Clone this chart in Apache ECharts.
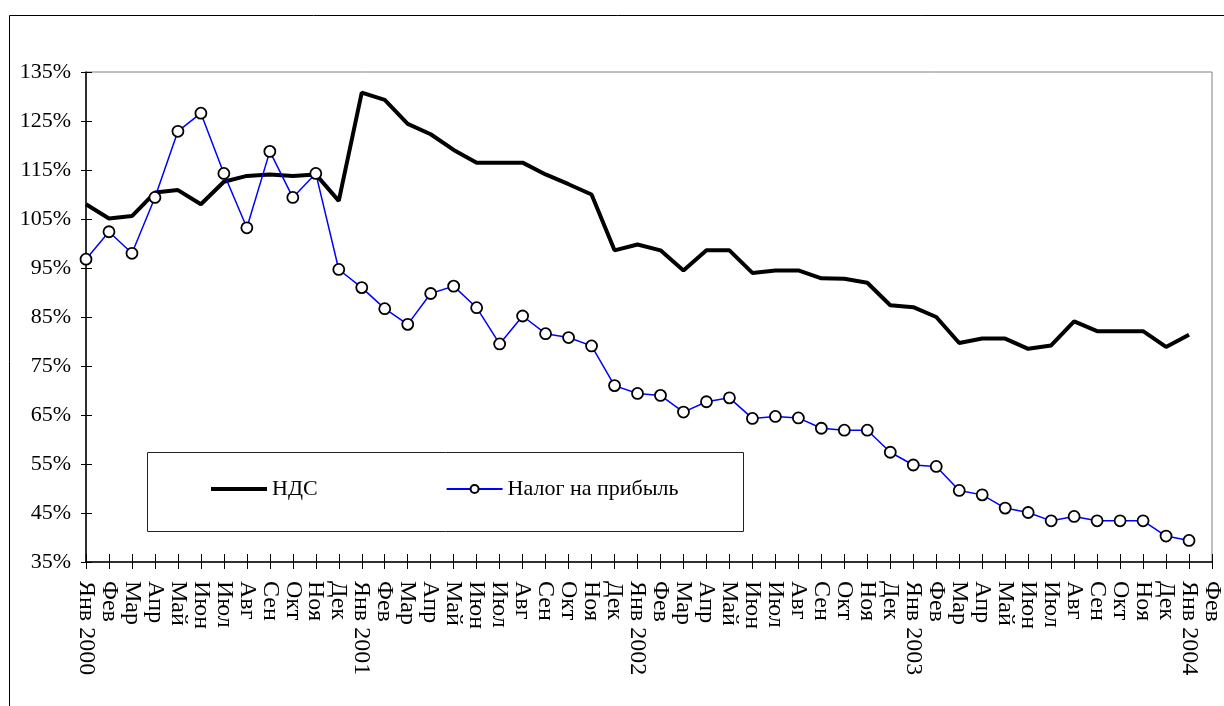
<!DOCTYPE html>
<html>
<head>
<meta charset="utf-8">
<script src="https://cdn.jsdelivr.net/npm/echarts@6/dist/echarts.min.js"></script>
<style>
html,body{margin:0;padding:0;background:#fff;}
#chart{width:1224px;height:706px;}
</style>
</head>
<body>
<div id="chart"></div>
<script>
// Category labels (months Jan 2000 .. Feb 2004)
var categories = [
  'Янв 2000','Фев','Мар','Апр','Май','Июн','Июл','Авг','Сен','Окт','Ноя','Дек',
  'Янв 2001','Фев','Мар','Апр','Май','Июн','Июл','Авг','Сен','Окт','Ноя','Дек',
  'Янв 2002','Фев','Мар','Апр','Май','Июн','Июл','Авг','Сен','Окт','Ноя','Дек',
  'Янв 2003','Фев','Мар','Апр','Май','Июн','Июл','Авг','Сен','Окт','Ноя','Дек',
  'Янв 2004','Фев'
];
// НДС, %
var ndsValues = [
  108.0,105.1,105.6,110.4,110.9,108.0,112.6,113.8,114.1,113.8,114.1,108.7,
  130.8,129.3,124.4,122.3,119.1,116.5,116.5,116.5,114.1,112.1,110.0,98.6,
  99.8,98.6,94.5,98.6,98.6,94.0,94.5,94.5,92.9,92.8,92.0,87.4,
  87.0,85.0,79.7,80.6,80.6,78.5,79.2,84.1,82.1,82.1,82.1,78.9,
  81.4
];
// Налог на прибыль, %
var profitTaxValues = [
  96.8,102.4,98.0,109.4,122.9,126.6,114.3,103.2,118.8,109.4,114.3,94.7,
  91.0,86.7,83.5,89.8,91.3,86.9,79.5,85.2,81.6,80.8,79.1,71.0,
  69.4,69.0,65.6,67.7,68.5,64.3,64.7,64.4,62.3,61.9,61.9,57.4,
  54.8,54.5,49.6,48.7,46.0,45.1,43.4,44.3,43.4,43.4,43.4,40.3,
  39.4
];
// Y tick values (%)
var yTicks = [35,45,55,65,75,85,95,105,115,125,135];
var seriesNames = ['НДС','Налог на прибыль'];

var FONT = '"Liberation Serif", "Times New Roman", serif';
var chart = echarts.init(document.getElementById('chart'));
chart.setOption({
  animation: false,
  backgroundColor: '#ffffff',
  textStyle: {fontFamily: FONT, color: '#000'},
  grid: {left: 86, right: 9, top: 72, bottom: 144, show: true, borderColor: '#808080', borderWidth: 1, containLabel: false},
  graphic: [
    {type: 'rect', shape: {x: 9.5, y: 15.5, width: 1400, height: 900}, style: {fill: 'none', stroke: '#000', lineWidth: 1}, silent: true, z: -10},
    {type: 'rect', shape: {x: 147.5, y: 452.5, width: 596, height: 79}, style: {fill: '#fff', stroke: '#222', lineWidth: 1}, silent: true, z: 5}
  ],
  legend: {
    left: 206, top: 473, z: 10,
    itemWidth: 56, itemHeight: 10, itemGap: 128,
    textStyle: {fontFamily: FONT, fontSize: 22, color: '#000'},
    data: [
      {name: seriesNames[0], icon: 'path://M0,0 L56,0 L56,4 L0,4 Z', itemStyle: {color: '#000'}},
      {name: seriesNames[1]}
    ]
  },
  xAxis: [
    {
      type: 'category', data: categories, boundaryGap: false,
      axisLine: {lineStyle: {color: '#000', width: 1.5}},
      axisTick: {show: true, inside: false, length: 7, interval: 0, lineStyle: {color: '#000', width: 1}},
      axisLabel: {interval: 0, rotate: -90, margin: 19, fontFamily: FONT, fontSize: 24, color: '#000'},
      splitLine: {show: false}
    },
    {
      type: 'category', data: categories, boundaryGap: false, position: 'bottom',
      axisLine: {show: false},
      axisTick: {show: true, inside: true, length: 8, interval: 0, lineStyle: {color: '#000', width: 1}},
      axisLabel: {show: false}, splitLine: {show: false}
    }
  ],
  yAxis: [
    {
      type: 'value', min: 35, max: 135,
      axisLine: {show: true, lineStyle: {color: '#000', width: 1.5}},
      axisTick: {show: true, inside: false, length: 5, customValues: yTicks, lineStyle: {color: '#000'}},
      axisLabel: {customValues: yTicks, formatter: '{value}%', margin: 15, fontFamily: FONT, fontSize: 22, color: '#000'},
      splitLine: {show: false}
    },
    {
      type: 'value', min: 35, max: 135, position: 'left',
      axisLine: {show: false},
      axisTick: {show: true, inside: true, length: 6, customValues: yTicks, lineStyle: {color: '#000'}},
      axisLabel: {show: false}, splitLine: {show: false}
    }
  ],
  series: [
    {
      name: seriesNames[0], type: 'line', data: ndsValues, xAxisIndex: 0, yAxisIndex: 0,
      symbol: 'none', lineStyle: {color: '#000', width: 4}, itemStyle: {color: '#000'}, z: 3
    },
    {
      name: seriesNames[1], type: 'line', data: profitTaxValues, xAxisIndex: 0, yAxisIndex: 0,
      symbol: 'circle', symbolSize: 11, showAllSymbol: true,
      lineStyle: {color: '#0000ff', width: 1.5},
      itemStyle: {color: '#ffffff', borderColor: '#000', borderWidth: 1.8}, z: 4
    }
  ]
});
</script>
</body>
</html>
